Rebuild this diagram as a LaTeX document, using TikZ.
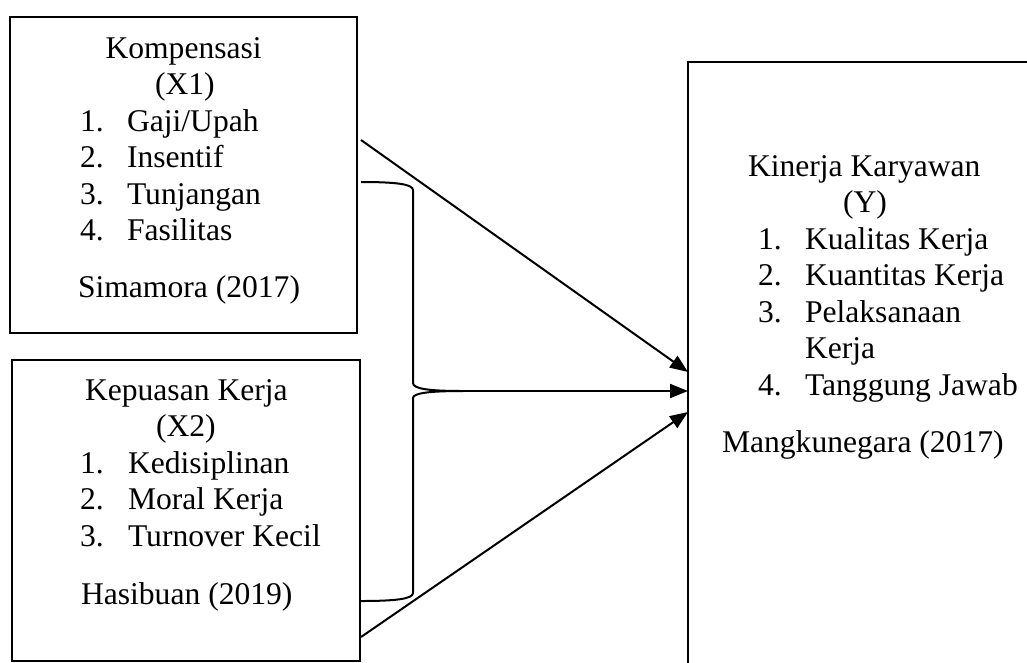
\documentclass[tikz,border=0pt]{standalone}
\usepackage{fontspec}
\setmainfont{Liberation Serif}
\usetikzlibrary{arrows.meta}
\begin{document}
\begin{tikzpicture}[x=1pt,y=-1pt,
  box/.style={draw=black, line width=1.1pt, inner sep=0pt, outer sep=0pt, anchor=north west},
  txt/.style={anchor=base west, inner sep=0pt, outer sep=0pt, font=\fontsize{31.6pt}{36.5pt}\selectfont},
  conn/.style={line width=2pt, -{Triangle[length=18pt,width=14pt]}},
  bracepath/.style={line width=2pt}]
\clip (0,0) rectangle (1027,662);
% boxes
\node[box, minimum width=347pt, minimum height=316pt] (b1) at (10,17) {};
\node[box, minimum width=348pt, minimum height=301pt] (b2) at (12,360) {};
\node[box, minimum width=500pt, minimum height=700pt] (b3) at (688,62) {};
% box 1 text
\node[txt] (k1) at (105.5,58) {Kompensasi};
\node[txt] (k2) at (155,94.5) {(X1)};
\node[txt] (k3n) at (80,131) {1.};  \node[txt] (k3) at (127,131) {Gaji/Upah};
\node[txt] (k4n) at (80,167.5) {2.}; \node[txt] (k4) at (127,167.5) {Insentif};
\node[txt] (k5n) at (80,204) {3.};  \node[txt] (k5) at (127,204) {Tunjangan};
\node[txt] (k6n) at (80,240.5) {4.}; \node[txt] (k6) at (127,240.5) {Fasilitas};
\node[txt] (k7) at (78,297) {Simamora (2017)};
% box 2 text
\node[txt] (p1) at (85,400) {Kepuasan Kerja};
\node[txt] (p2) at (156,436.5) {(X2)};
\node[txt] (p3n) at (80,473) {1.};   \node[txt] (p3) at (128,473) {Kedisiplinan};
\node[txt] (p4n) at (80,509.5) {2.}; \node[txt] (p4) at (128,509.5) {Moral Kerja};
\node[txt] (p5n) at (80,546) {3.};   \node[txt] (p5) at (128,546) {Turnover Kecil};
\node[txt] (p6) at (81,604) {Hasibuan (2019)};
% right box text
\node[txt] (y1) at (748,176) {Kinerja Karyawan};
\node[txt] (y2) at (843,212.5) {(Y)};
\node[txt] (y3n) at (758,249) {1.};   \node[txt] (y3) at (805,249) {Kualitas Kerja};
\node[txt] (y4n) at (758,285.5) {2.}; \node[txt] (y4) at (805,285.5) {Kuantitas Kerja};
\node[txt] (y5n) at (758,322) {3.};   \node[txt] (y5) at (805,322) {Pelaksanaan};
\node[txt] (y6) at (805,358.5) {Kerja};
\node[txt] (y7n) at (758,395) {4.};   \node[txt] (y7) at (805,395) {Tanggung Jawab};
\node[txt] (y8) at (722,452) {Mangkunegara (2017)};
% connector end points
\coordinate (s1) at (361,140);
\coordinate (t1) at (688,372);
\coordinate (bTop) at (361,182);
\coordinate (bTip) at (463,391);
\coordinate (bBot) at (361,601);
\coordinate (t2) at (688,391);
\coordinate (s3) at (361,637);
\coordinate (t3) at (688,412);
% brace
\draw[bracepath] (bTop) .. controls (395,182) and (413,184) .. (413,190) -- (413,383)
  .. controls (413,389) and (430,391) .. (bTip)
  .. controls (430,391) and (413,393) .. (413,398) -- (413,593)
  .. controls (413,599) and (395,601) .. (bBot);
% arrows
\draw[conn] (s1) -- (t1);
\draw[conn] (bTip) -- (t2);
\draw[conn] (s3) -- (t3);
\end{tikzpicture}
\end{document}
